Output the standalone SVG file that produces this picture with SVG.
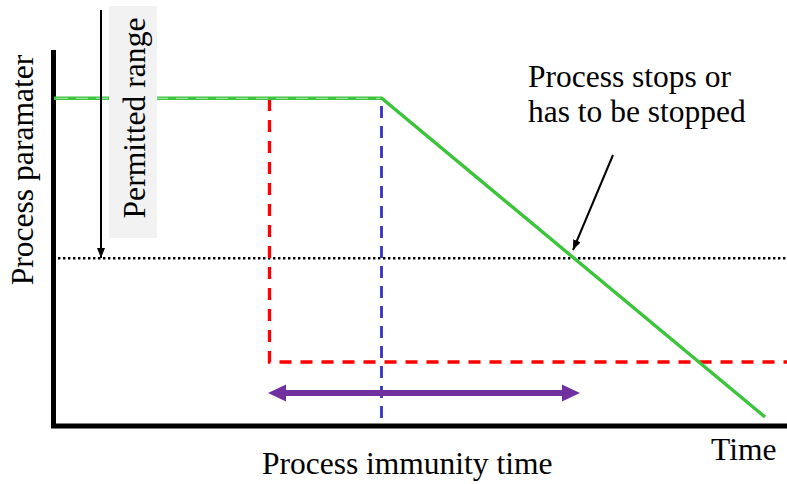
<svg xmlns="http://www.w3.org/2000/svg" width="787" height="484" viewBox="0 0 787 484">
<style>
text{font-family:"Liberation Serif","Times New Roman",serif;fill:#000}
.lbl{font-size:31.5px}
.rot{font-size:31.6px}
.axis{fill:none;stroke:#000;stroke-width:5}
</style>
<defs>
<marker id="blk" markerWidth="10" markerHeight="8" refX="10" refY="4" orient="auto" markerUnits="userSpaceOnUse"><path d="M0,0 L10,4 L0,8 Z" fill="#000"/></marker>
</defs>
<rect width="787" height="484" fill="#fff"/>
<g id="y-label"><text class="rot" transform="translate(33,170) rotate(-90)" text-anchor="middle">Process paramater</text></g>
<g id="axes"><polyline class="axis" points="53.5,50 53.5,426 787,426"/></g>
<g id="connectors">
<line x1="58" y1="258.3" x2="787" y2="258.3" stroke="#000" stroke-width="2.6" stroke-dasharray="2.4 2.6"/>
<polyline points="269.5,99 269.5,362 787,362" fill="none" stroke="#ff0000" stroke-width="3.3" stroke-dasharray="12 9"/>
<line x1="381.5" y1="106" x2="381.5" y2="426" stroke="#3333cc" stroke-width="2.8" stroke-dasharray="12 8"/>
<polyline points="54,98.3 381.7,98.3 765,417" fill="none" stroke="#3cc43c" stroke-width="3.4"/>
<line x1="56" y1="98.3" x2="380" y2="98.3" stroke="#9ae09a" stroke-width="1.3" stroke-dasharray="12 8"/>
<line x1="101" y1="10" x2="101" y2="258" stroke="#000" stroke-width="2" marker-end="url(#blk)"/>
<line x1="613" y1="155" x2="573" y2="250" stroke="#000" stroke-width="2" marker-end="url(#blk)"/>
<g id="immunity-arrow" fill="#7030a0">
<rect x="284" y="390" width="280" height="6"/>
<path d="M268,393 L286,384.5 L286,401.5 Z"/>
<path d="M580,393 L562,384.5 L562,401.5 Z"/>
</g>
</g>
<g id="permitted-range">
<rect x="109" y="6" width="48" height="232" fill="#f2f2f2"/>
<text class="rot" transform="translate(145,118) rotate(-90)" text-anchor="middle">Permitted range</text>
</g>
<g id="stop-label">
<text class="lbl" x="528" y="87">Process stops or</text>
<text class="lbl" x="528" y="122">has to be stopped</text>
</g>
<g id="time-label"><text class="lbl" x="711" y="460">Time</text></g>
<g id="immunity-label"><text class="lbl" x="262" y="474">Process immunity time</text></g>
</svg>
